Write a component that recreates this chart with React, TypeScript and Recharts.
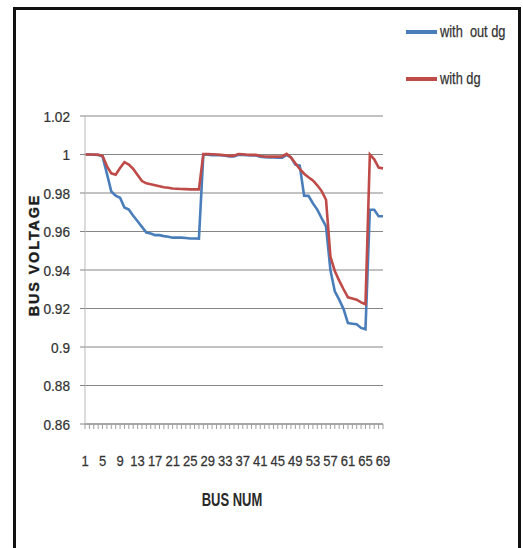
import { CartesianGrid, Line, LineChart, XAxis, YAxis } from "recharts";

// bus numbers of the 69-bus feeder
const busNum = [
  1, 2, 3, 4, 5, 6, 7, 8, 9, 10, 11, 12, 13, 14, 15, 16, 17, 18, 19, 20, 21, 22, 23,
  24, 25, 26, 27, 28, 29, 30, 31, 32, 33, 34, 35, 36, 37, 38, 39, 40, 41, 42, 43, 44,
  45, 46, 47, 48, 49, 50, 51, 52, 53, 54, 55, 56, 57, 58, 59, 60, 61, 62, 63, 64, 65,
  66, 67, 68, 69,
];

// bus voltage (p.u.) without distributed generation
const withoutDg = [
  1.0, 1.0, 0.9999, 0.9998, 0.999, 0.9901, 0.9808, 0.9786, 0.9775, 0.9725, 0.9714,
  0.9682, 0.9653, 0.9624, 0.9595, 0.959, 0.9581, 0.9581, 0.9576, 0.9573, 0.9568,
  0.9568, 0.9568, 0.9566, 0.9564, 0.9564, 0.9563, 0.9999, 0.9999, 0.9997, 0.9997,
  0.9996, 0.9994, 0.999, 0.999, 0.9999, 0.9998, 0.9996, 0.9995, 0.9995, 0.9988,
  0.9986, 0.9985, 0.9985, 0.9984, 0.9984, 0.9998, 0.9985, 0.9947, 0.9942, 0.9786,
  0.9785, 0.9747, 0.9714, 0.9669, 0.9626, 0.94, 0.9289, 0.9246, 0.9197, 0.9124,
  0.9121, 0.9118, 0.9099, 0.9092, 0.9713, 0.9713, 0.9679, 0.9679,
];

// bus voltage (p.u.) with distributed generation
const withDg = [
  1.0, 1.0, 1.0, 0.9999, 0.9993, 0.994, 0.9902, 0.9895, 0.993, 0.996, 0.9948, 0.9925,
  0.9893, 0.9862, 0.985, 0.9845, 0.984, 0.9835, 0.983, 0.9827, 0.9823, 0.9822, 0.9821,
  0.982, 0.9819, 0.9819, 0.9819, 1.0002, 1.0002, 1.0001, 1.0, 0.9998, 0.9996, 0.9993,
  0.9994, 1.0002, 1.0001, 0.9999, 0.9998, 0.9998, 0.9992, 0.999, 0.9989, 0.9989,
  0.9989, 0.999, 1.0003, 0.9985, 0.9955, 0.9925, 0.99, 0.9882, 0.9865, 0.984, 0.981,
  0.9765, 0.947, 0.9395, 0.9345, 0.93, 0.9258, 0.9252, 0.9246, 0.9232, 0.9222, 1.0,
  0.9975, 0.9932, 0.9928,
];

const voltageTicks = [0.86, 0.88, 0.9, 0.92, 0.94, 0.96, 0.98, 1, 1.02];
const busTickLabels = [1, 5, 9, 13, 17, 21, 25, 29, 33, 37, 41, 45, 49, 53, 57, 61, 65, 69];

const series = [
  { key: "withoutDg", name: "with  out dg", color: "#4a7ebb" },
  { key: "withDg", name: "with dg", color: "#be4b48" },
];

const rows = busNum.map((bus, i) => ({
  bus,
  withoutDg: withoutDg[i],
  withDg: withDg[i],
}));

const FONT = "'Liberation Sans', Arial, sans-serif";
const TEXT = "#333333";

const fmtVoltage = (v: number) => String(Number(v.toFixed(2)));

function BusTick(props: any) {
  const { x, y, payload } = props;
  if (!busTickLabels.includes(payload.value)) return <g />;
  return (
    <text
      transform={`translate(${x},${y + 35}) scale(0.84,1)`}
      textAnchor="middle"
      fontSize={15.5}
      fontFamily={FONT}
      fill={TEXT}
      stroke={TEXT}
      strokeWidth={0.25}
    >
      {payload.value}
    </text>
  );
}

function VoltageTick(props: any) {
  const { x, y, payload } = props;
  return (
    <text
      transform={`translate(${x},${y}) scale(0.88,1)`}
      textAnchor="end"
      dy="0.36em"
      fontSize={15.5}
      fontFamily={FONT}
      fill={TEXT}
      stroke={TEXT}
      strokeWidth={0.25}
    >
      {fmtVoltage(payload.value)}
    </text>
  );
}

export default function App() {
  return (
    <div
      style={{
        position: "absolute",
        left: 0,
        top: 0,
        width: 523,
        height: 548,
        overflow: "hidden",
        background: "#fff",
      }}
    >
      {/* outer frame, open at the bottom */}
      <div
        style={{
          position: "absolute",
          left: 13,
          top: 7,
          width: 508,
          height: 541,
          boxSizing: "border-box",
          borderTop: "3px solid #111",
          borderLeft: "3px solid #111",
          borderRight: "3px solid #111",
        }}
      />

      <LineChart
        width={523}
        height={548}
        data={rows}
        margin={{ top: 116, right: 140, bottom: 84, left: 0 }}
        style={{ position: "absolute", left: 0, top: 0 }}
      >
        <CartesianGrid vertical={false} stroke="#868686" strokeWidth={1.2} />
        <XAxis
          dataKey="bus"
          interval={0}
          height={40}
          tickSize={5}
          tick={<BusTick />}
          axisLine={{ stroke: "#8c8c8c", strokeWidth: 1.2 }}
          tickLine={{ stroke: "#a0a0a0" }}
        />
        <YAxis
          width={85}
          domain={[0.86, 1.02]}
          ticks={voltageTicks}
          tickSize={5}
          tickMargin={10}
          tick={<VoltageTick />}
          axisLine={{ stroke: "#c4c4c4", strokeWidth: 1.2 }}
          tickLine={{ stroke: "#868686" }}
        />
        {series.map((s) => (
          <Line
            key={s.key}
            type="linear"
            dataKey={s.key}
            name={s.name}
            stroke={s.color}
            strokeWidth={2.6}
            dot={false}
            isAnimationActive={false}
          />
        ))}
      </LineChart>

      {/* legend */}
      {series.map((s, i) => (
        <div
          key={s.key}
          style={{
            position: "absolute",
            left: 406,
            top: 32 + i * 47 - 10,
            height: 20,
            display: "flex",
            alignItems: "center",
            whiteSpace: "pre",
          }}
        >
          <div style={{ width: 31, height: 4, background: s.color }} />
          <span
            style={{
              marginLeft: 3,
              fontFamily: FONT,
              fontSize: 16,
              color: TEXT,
              display: "inline-block",
              transform: "scaleX(0.8)",
              transformOrigin: "left center",
              WebkitTextStroke: "0.25px #333",
            }}
          >
            {s.name}
          </span>
        </div>
      ))}

      {/* axis titles */}
      <div
        style={{
          position: "absolute",
          left: 34,
          top: 255,
          transform: "translate(-50%, -50%) rotate(-90deg)",
          fontFamily: FONT,
          fontWeight: 700,
          fontSize: 14.5,
          letterSpacing: 1.8,
          color: "#1c1c1c",
          whiteSpace: "nowrap",
          WebkitTextStroke: "0.4px #1c1c1c",
        }}
      >
        BUS VOLTAGE
      </div>
      <div
        style={{
          position: "absolute",
          left: 232,
          top: 500,
          transform: "translate(-50%, -50%) scaleX(0.72)",
          fontFamily: FONT,
          fontWeight: 700,
          fontSize: 18,
          color: "#2a2a2a",
          whiteSpace: "nowrap",
        }}
      >
        BUS NUM
      </div>
    </div>
  );
}
